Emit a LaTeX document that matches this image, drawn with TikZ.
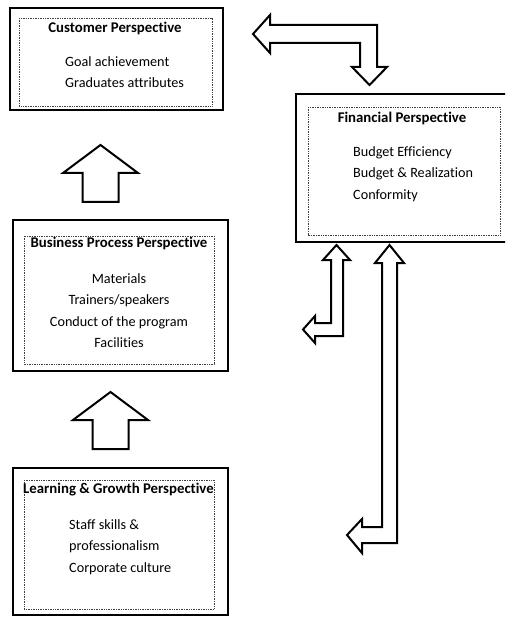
\documentclass[tikz,border=0pt]{standalone}
\usepackage{fontspec}
\setmainfont{Carlito}[Ligatures=NoCommon]
\usetikzlibrary{positioning,calc}
\tikzset{
  outerbox/.style={draw, line width=2.6pt, rectangle, inner sep=0pt},
  innerbox/.style={draw=black!75, densely dotted, line width=0.7pt},
  heading/.style={font=\fontsize{14.8}{16}\selectfont\bfseries, inner sep=0pt},
  items/.style={font=\fontsize{14.2}{21.5}\selectfont, inner sep=0pt},
  blockarrow/.style={draw, line width=2pt, fill=white, line join=miter},
  uparrow/.pic={
    \draw[blockarrow] (0,0) -- (37.5,28) -- (18,28) -- (18,57)
      -- (-18,57) -- (-18,28) -- (-37.5,28) -- cycle;
  }
}

\begin{document}
\begin{tikzpicture}[x=1pt, y=-1pt]
\useasboundingbox (0,0) rectangle (506,617);
\clip (0,0) rectangle (505,617);
% Place boxes
\node [outerbox, minimum width=224pt, minimum height=148pt] (fin) at (408,168) {};
\node [outerbox, minimum width=213pt, minimum height=102pt] (cust) at (116.5,59) {};
\node [outerbox, minimum width=215pt, minimum height=151pt] (bus) at (120.5,295.5) {};
\node [outerbox, minimum width=215pt, minimum height=147pt] (learn) at (120.5,541.5) {};
% Dotted frames
\draw [innerbox] (19,18) rectangle (212,106);
\draw [innerbox] (308,107) rectangle (500,235);
\draw [innerbox] (24,236) rectangle (214,364);
\draw [innerbox] (24,480) rectangle (214,609);
% Texts
\node [heading] (custTitle) at (115,28) {Customer Perspective};
\node [items, align=left, anchor=north west] (custItems) at (65,56)
  {Goal achievement\\Graduates attributes};
\node [heading] (finTitle) at (402,118) {Financial Perspective};
\node [items, align=left, anchor=north west] (finItems) at (353,146)
  {Budget Efficiency\\Budget \& Realization\\Conformity};
\node [heading] (busTitle) at (119,243) {Business Process Perspective};
\node [items, align=center, anchor=north] (busItems) at (119,273)
  {Materials\\Trainers/speakers\\Conduct of the program\\Facilities};
\node [heading] (learnTitle) at (118.5,490) {Learning \& Growth Perspective};
\node [items, align=left, anchor=north west] (learnItems) at (69,519)
  {Staff skills \&\\professionalism\\Corporate culture};
% Block arrows
\pic at (100.5,145) {uparrow};
\pic at (110.5,392) {uparrow};
\draw [blockarrow] (253,34) -- (270,15) -- (270,25) -- (377,25) -- (377,67)
  -- (387,67) -- (369.5,85) -- (352,67) -- (360,67) -- (360,43)
  -- (270,43) -- (270,53) -- cycle;
\draw [blockarrow] (336.5,245) -- (350,260) -- (343,260) -- (343,336)
  -- (315,336) -- (315,343) -- (303,329.5) -- (315,316) -- (315,323)
  -- (331,323) -- (331,260) -- (323,260) -- cycle;
\draw [blockarrow] (389.5,245) -- (404,263) -- (397,263) -- (397,543)
  -- (362,543) -- (362,553) -- (347,535) -- (362,519) -- (362,527)
  -- (382,527) -- (382,263) -- (375,263) -- cycle;
\end{tikzpicture}
\end{document}
